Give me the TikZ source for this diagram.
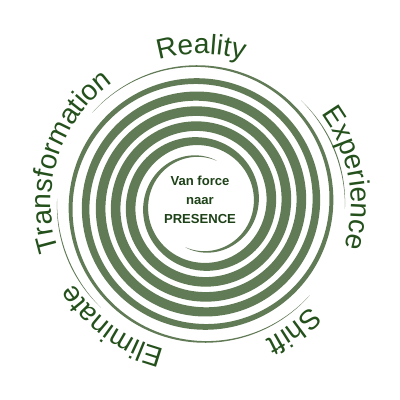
\documentclass[tikz,border=0pt]{standalone}
\usepackage{fontspec}
\setmainfont{Liberation Sans}
\usetikzlibrary{decorations.text}
\definecolor{spiralcol}{HTML}{617B56}
\definecolor{labelcol}{HTML}{23501B}
\definecolor{centercol}{HTML}{1E4218}
\tikzset{
  declare function={armwid(\t,\s,\e)=9.6*min(1,(\t-\s)/260,(\e-\t)/430)^0.8;
                    armrad(\s)=46+0.0835*\s;},
  labeltext/.style={decorate,decoration={text along path,text align=center,
     text={|\fontsize{20pt}{22pt}\selectfont\color{labelcol}|#1}}},
}
\newcommand\myarm[2]{%
  \fill[spiralcol] plot[domain=#1:#2,samples=600,variable=\t]
    ({201+(armrad(\t-(#1))+0.5*armwid(\t,#1,#2))*cos(\t)},
     {196+(armrad(\t-(#1))+0.5*armwid(\t,#1,#2))*sin(\t)})
   -- plot[domain=#2:#1,samples=600,variable=\t]
    ({201+(armrad(\t-(#1))-0.5*armwid(\t,#1,#2))*cos(\t)},
     {196+(armrad(\t-(#1))-0.5*armwid(\t,#1,#2))*sin(\t)}) -- cycle;}
\newcommand\myhair[3]{% start angle, end angle, radius
  \fill[spiralcol] plot[domain=#1:#2,samples=100,variable=\t]
    ({201+(#3+0.5*sin(180*(\t-(#1))/((#2)-(#1))))*cos(\t)},
     {196+(#3+0.5*sin(180*(\t-(#1))/((#2)-(#1))))*sin(\t)})
   -- plot[domain=#2:#1,samples=100,variable=\t]
    ({201+(#3-0.5*sin(180*(\t-(#1))/((#2)-(#1))))*cos(\t)},
     {196+(#3-0.5*sin(180*(\t-(#1))/((#2)-(#1))))*sin(\t)}) -- cycle;}
\begin{document}
\begin{tikzpicture}[x=0.25mm,y=0.25mm]
\useasboundingbox (0,0) rectangle (400,400);
\fill[white] (0,0) rectangle (400,400);
\coordinate (c) at (201,196);
\myarm{-110}{1040}
\myarm{70}{1220}
\myhair{-2}{46}{144}
\myhair{178}{226}{144}
% labels on a clockwise circle
\path[labeltext=Reality] (c) ++(112:150) arc[start angle=112,end angle=68,radius=150];
\path[labeltext=Experience] (c) ++(42:150) arc[start angle=42,end angle=-22,radius=150];
\path[labeltext=Shift] (c) ++(-36:150) arc[start angle=-36,end angle=-72,radius=150];
\path[labeltext=Eliminate] (c) ++(-92:150) arc[start angle=-92,end angle=-160,radius=150];
\path[labeltext=Transformation] (c) ++(-159:150) arc[start angle=-159,end angle=-237,radius=150];
\node[align=center,text=centercol,font=\fontsize{9.3pt}{13.5pt}\selectfont\bfseries] (ctr) at (200,200) {Van force\\naar\\PRESENCE};
\end{tikzpicture}
\end{document}
